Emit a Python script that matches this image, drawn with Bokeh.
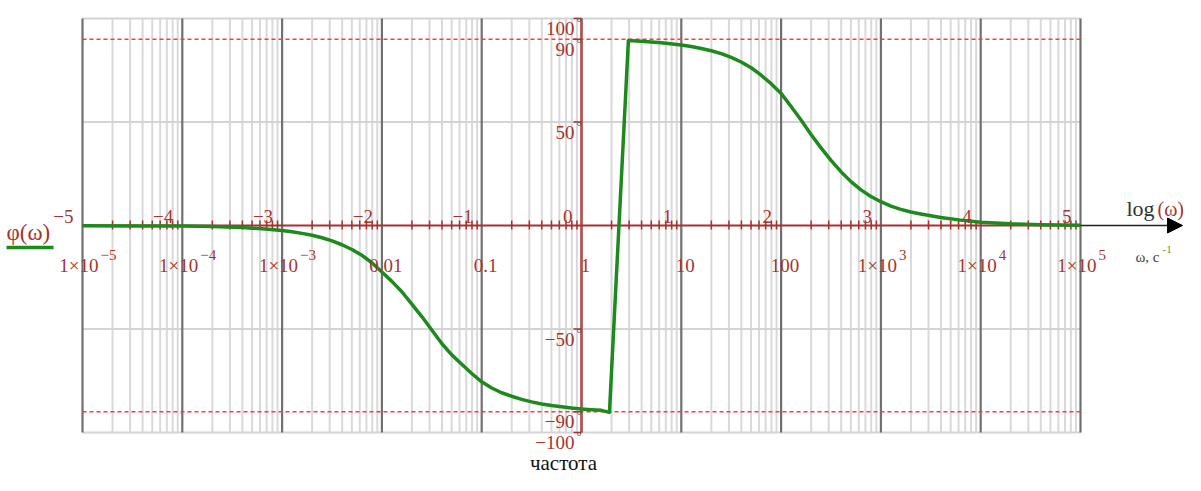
import numpy as np
from bokeh.plotting import figure
from bokeh.models import Range1d, Arrow, NormalHead
from bokeh.core.properties import value
from bokeh.embed import file_html
from bokeh.resources import INLINE

# ---------------- data ----------------
log_omega = [-5.0, -4.5, -4.0, -3.7, -3.4, -3.2, -3.0, -2.9, -2.8, -2.7, -2.6, -2.5,
             -2.4, -2.3, -2.2, -2.1, -2.0, -1.9, -1.8, -1.7, -1.6, -1.5, -1.4, -1.3,
             -1.2, -1.1, -1.0, -0.9, -0.8, -0.7, -0.6, -0.5, -0.4, -0.3, -0.2, -0.1,
             0.0, 0.1, 0.2, 0.28,
             0.47, 0.6, 0.8, 1.0, 1.1, 1.2, 1.3, 1.4, 1.5, 1.6, 1.7, 1.8, 1.9, 2.0,
             2.1, 2.2, 2.3, 2.4, 2.5, 2.6, 2.7, 2.8, 2.9, 3.0, 3.1, 3.2, 3.3, 3.4,
             3.5, 3.6, 3.8, 4.0, 4.3, 4.6, 5.0]
phase_deg = [-0.1, -0.2, -0.3, -0.5, -1.0, -1.6, -2.4, -3.0, -3.8, -4.7, -5.9, -7.4,
             -9.3, -11.6, -14.4, -18.0, -22.5, -27.0, -32.0, -38.0, -44.0, -50.5, -57.0, -62.5,
             -67.0, -71.5, -75.5, -78.5, -80.8, -82.5, -84.0, -85.2, -86.2, -87.0, -87.6, -88.2,
             -88.6, -89.0, -89.3, -90.3,
             89.4, 89.0, 88.3, 87.2, 86.5, 85.5, 84.4, 83.0, 81.2, 79.0, 76.2, 72.6, 68.5, 63.8,
             57.5, 51.0, 44.0, 37.5, 31.5, 26.0, 21.2, 17.2, 14.0, 11.5, 9.4, 7.8, 6.5, 5.6,
             4.7, 3.9, 2.6, 1.6, 0.8, 0.4, 0.15]

decade_exps = [-5, -4, -3, -2, -1, 0, 1, 2, 3, 4, 5]
top_labels = ["\u22125", "\u22124", "\u22123", "\u22122", "\u22121", "0", "1", "2", "3", "4", "5"]
sci_exps = [-5, -4, -3, 3, 4, 5]
sci_exp_texts = ["\u22125", "\u22124", "\u22123", "3", "4", "5"]
plain_exps = [-2, -1, 0, 1, 2]
plain_texts = ["0.01", "0.1", "1", "10", "100"]
y_grid_vals = [-100, -50, 50, 100]
y_dash_vals = [-90, 90]
y_tick_vals = [100, 90, 50, -50, -90, -100]
y_tick_texts = ["100", "90", "50", "\u221250", "\u221290", "\u2212100"]

# ---------------- layout helpers (screen layout only) ----------------
W, H = 1185, 475
PX_DEC = 99.8      # pixels per decade
PX_UNIT = 2.07     # pixels per degree
X0 = 82            # pixel of omega = 1e-5
Y0 = 225           # pixel of phase = 0


def lx(px):
    return 10 ** (-5 + (px - X0) / PX_DEC)


def ly(py):
    return (Y0 - py) / PX_UNIT


x_lo = 10 ** (-5 - X0 / PX_DEC)
x_hi = 10 ** (-5 + (W - X0) / PX_DEC)
y_hi = Y0 / PX_UNIT
y_lo = -(H - Y0) / PX_UNIT

p = figure(width=W, height=H, x_axis_type="log",
           x_range=Range1d(x_lo, x_hi), y_range=Range1d(y_lo, y_hi),
           output_backend="svg", toolbar_location=None, tools="",
           x_axis_location=None, y_axis_location=None, min_border=0)
p.grid.visible = False
p.outline_line_color = None
p.background_fill_color = "white"
p.border_fill_color = "white"

SERIF = value("Liberation Serif")
RED = "#a3362e"

decades = [10.0 ** e for e in decade_exps]
minors = [10.0 ** e * k for e in decade_exps[:-1] for k in range(2, 10)]
w_min, w_max = decades[0], decades[-1]

# minor vertical gridlines
p.segment(x0=minors, y0=[-100] * len(minors), x1=minors, y1=[100] * len(minors),
          line_color="#d9d9d9", line_width=2)
# horizontal gridlines
p.segment(x0=[w_min] * len(y_grid_vals), y0=y_grid_vals, x1=[w_max] * len(y_grid_vals),
          y1=y_grid_vals, line_color="#d4d4d4", line_width=2)
# decade gridlines
p.segment(x0=decades, y0=[-100] * len(decades), x1=decades, y1=[100] * len(decades),
          line_color="#707070", line_width=2.2)
# red dashed +-90 lines
p.segment(x0=[w_min] * 2, y0=y_dash_vals, x1=[w_max] * 2, y1=y_dash_vals,
          line_color="#ff3b3b", line_width=1.6, line_dash="4 3")

# y axis (at omega = 1)
p.segment(x0=[1], y0=[-100], x1=[1], y1=[100], line_color="#c04848",
          line_alpha=0.65, line_width=3)
# x axis (at phase = 0)
p.segment(x0=[w_min], y0=[0], x1=[w_max], y1=[0], line_color="#a83030", line_width=2)
p.segment(x0=minors, y0=[ly(220)] * len(minors), x1=minors, y1=[ly(229)] * len(minors),
          line_color="#a83030", line_width=1.5)
# y ticks
p.segment(x0=[lx(573)] * len(y_tick_vals), y0=y_tick_vals, x1=[1] * len(y_tick_vals),
          y1=y_tick_vals, line_color="#a83030", line_width=1.5)
# arrow continuing the x axis
p.add_layout(Arrow(end=NormalHead(size=15, fill_color="black", line_color="black"),
                   x_start=w_max, y_start=0, x_end=lx(1182), y_end=0,
                   line_color="#222222", line_width=1.5))

# curve
omega = [10.0 ** v for v in log_omega]
p.line(omega, phase_deg, line_color="#1e8a1e", line_width=3.5, line_join="round")

# top (log omega) labels
p.text(x=decades, y=[ly(216)] * len(decades), text=top_labels, text_font=SERIF,
       text_font_size="19px", text_color=RED, text_align="right",
       text_baseline="alphabetic", x_offset=-9)

# bottom omega labels
sci_x = [10.0 ** e for e in sci_exps]
p.text(x=sci_x, y=[ly(265)] * len(sci_x), text=["1\u00d710"] * len(sci_x), text_font=SERIF,
       text_font_size="19px", text_color=RED, text_align="right",
       text_baseline="alphabetic", x_offset=16)
p.text(x=sci_x, y=[ly(254)] * len(sci_x), text=sci_exp_texts, text_font=SERIF,
       text_font_size="15px", text_color=RED, text_align="left",
       text_baseline="alphabetic", x_offset=18)
plain_x = [10.0 ** e for e in plain_exps]
p.text(x=plain_x, y=[ly(265)] * len(plain_x), text=plain_texts, text_font=SERIF,
       text_font_size="19px", text_color=RED, text_align="center",
       text_baseline="alphabetic", x_offset=4)

# y labels
p.text(x=[lx(574)] * len(y_tick_vals), y=[v - 10 / PX_UNIT for v in y_tick_vals],
       text=y_tick_texts, text_font=SERIF, text_font_size="19px", text_color=RED,
       text_align="right", text_baseline="alphabetic")
p.text(x=[lx(576)] * len(y_tick_vals), y=[v - 3 / PX_UNIT for v in y_tick_vals],
       text=["\u00b0"] * len(y_tick_vals), text_font=SERIF, text_font_size="13px",
       text_color="#555555", text_align="left", text_baseline="alphabetic")

# legend on the left
p.text(x=[lx(6)], y=[ly(232)], text=["\u03c6(\u03c9)"], text_font=SERIF,
       text_font_size="23px", text_color=RED, text_align="left", text_baseline="alphabetic")
p.segment(x0=[lx(6)], y0=[ly(247)], x1=[lx(53)], y1=[ly(247)], line_color="#1e8a1e",
          line_width=3.5)

# axis titles on the right
p.text(x=[lx(1126)], y=[ly(208)], text=["log"], text_font=SERIF, text_font_size="22px",
       text_color="#333333", text_align="left", text_baseline="alphabetic")
p.text(x=[lx(1157)], y=[ly(208)], text=["(\u03c9)"], text_font=SERIF, text_font_size="20px",
       text_color=RED, text_align="left", text_baseline="alphabetic")
p.text(x=[lx(1135)], y=[ly(256)], text=["\u03c9, c"], text_font=SERIF, text_font_size="15px",
       text_color="#444444", text_align="left", text_baseline="alphabetic")
p.text(x=[lx(1162)], y=[ly(249)], text=["-1"], text_font=SERIF, text_font_size="11px",
       text_color="#5a9a3a", text_align="left", text_baseline="alphabetic")

# bottom caption
p.text(x=[lx(563)], y=[ly(462)], text=["\u0447\u0430\u0441\u0442\u043e\u0442\u0430"],
       text_font=SERIF, text_font_size="21px", text_color="#111111",
       text_align="center", text_baseline="alphabetic")

open("out.html", "w").write(file_html(p, INLINE))
